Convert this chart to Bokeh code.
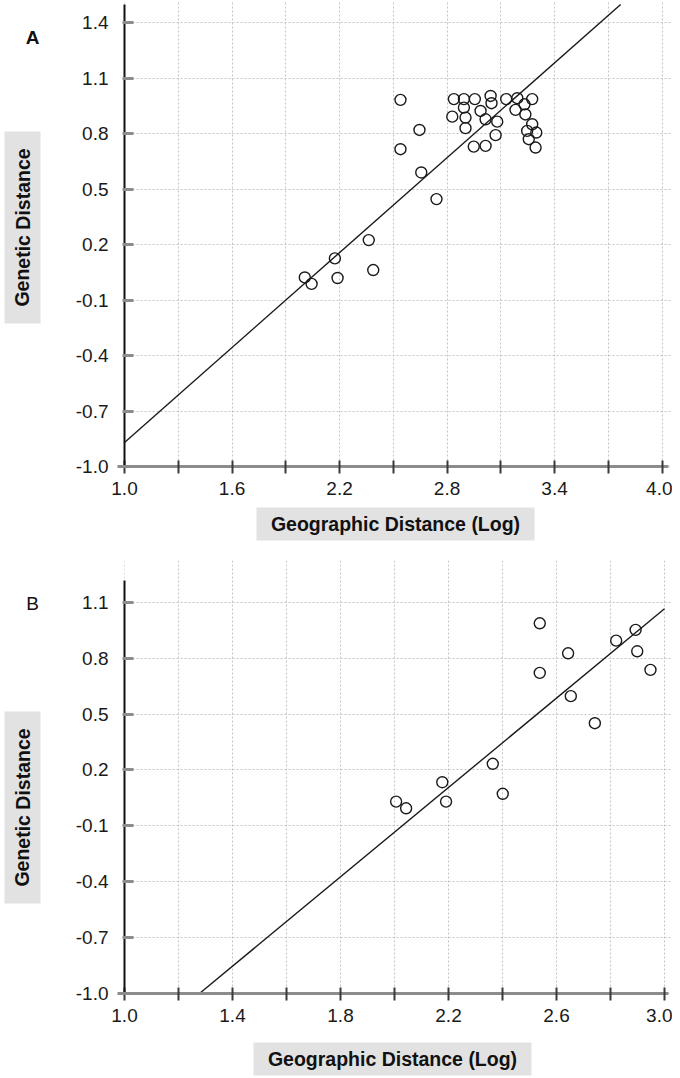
from bokeh.plotting import figure
from bokeh.models import FixedTicker, Label, Range1d, BoxAnnotation
from bokeh.layouts import column
from bokeh.embed import file_html
from bokeh.resources import INLINE

FONT = "Liberation Sans"

# ---------------- Panel A data ----------------
a_x = [2.006, 2.044, 2.174, 2.189, 2.363, 2.388, 2.540, 2.540, 2.646, 2.656, 2.741,
       2.838, 2.894, 2.955, 3.043, 3.048, 3.130, 3.192, 3.275, 2.829, 2.894, 2.903,
       2.903, 2.987, 3.015, 3.080, 3.071, 2.949, 3.015, 3.182, 3.232, 3.237, 3.275,
       3.247, 3.298, 3.256, 3.294]
a_y = [0.023, -0.012, 0.126, 0.020, 0.225, 0.063, 0.717, 0.984, 0.821, 0.591, 0.447,
       0.988, 0.988, 0.988, 1.005, 0.966, 0.988, 0.993, 0.988, 0.893, 0.942, 0.888,
       0.831, 0.924, 0.879, 0.866, 0.793, 0.731, 0.735, 0.930, 0.960, 0.905, 0.852,
       0.816, 0.807, 0.771, 0.726]
a_slope = 0.856
a_intercept = -1.726
a_xticks = [1.0, 1.3, 1.6, 1.9, 2.2, 2.5, 2.8, 3.1, 3.4, 3.7, 4.0]
a_xlabels = ["1.0", "", "1.6", "", "2.2", "", "2.8", "", "3.4", "", "4.0"]
a_yticks = [-1.0, -0.7, -0.4, -0.1, 0.2, 0.5, 0.8, 1.1, 1.4]
a_ylabels = ["-1.0", "-0.7", "-0.4", "-0.1", "0.2", "0.5", "0.8", "1.1", "1.4"]
a_ytop = 1.5

# ---------------- Panel B data ----------------
b_x = [2.006, 2.043, 2.177, 2.191, 2.364, 2.401, 2.538, 2.538, 2.643, 2.653, 2.742,
       2.821, 2.893, 2.899, 2.948]
b_y = [0.030, -0.006, 0.134, 0.030, 0.233, 0.072, 0.987, 0.721, 0.826, 0.596, 0.451,
       0.894, 0.952, 0.837, 0.737]
b_slope = 1.199
b_intercept = -2.532
b_xticks = [1.0, 1.2, 1.4, 1.6, 1.8, 2.0, 2.2, 2.4, 2.6, 2.8, 3.0]
b_xlabels = ["1.0", "", "1.4", "", "1.8", "", "2.2", "", "2.6", "", "3.0"]
b_yticks = [-1.0, -0.7, -0.4, -0.1, 0.2, 0.5, 0.8, 1.1]
b_ylabels = ["-1.0", "-0.7", "-0.4", "-0.1", "0.2", "0.5", "0.8", "1.1"]
b_ytop = 1.217

X_TITLE = "Geographic Distance (Log)"
Y_TITLE = "Genetic Distance"

W = 672
BOX_GREY = "#e2e2e2"


def make_panel(xs, ys, slope, intercept, xticks, xlabels, yticks, ylabels, y_top,
               sx, sy, y0, H, letter, letter_bold, letter_xy, ybox, xbox):
    # pixel -> data helpers for placing the decorations (canvas-local pixels)
    def dx(px):
        return 1.0 + (px - 124) / sx

    def dy(py):
        return -1.0 + (y0 - py) / sy

    p = figure(width=W, height=H, x_range=Range1d(dx(0), dx(W)),
               y_range=Range1d(dy(H), dy(0)), min_border=0, title=None,
               output_backend="svg", toolbar_location=None)
    p.outline_line_color = None
    p.background_fill_color = "white"
    p.border_fill_color = "white"

    x_lo, y_lo = xticks[0], yticks[0]

    # axes drawn at the data origin of the chart
    p.xaxis.fixed_location = y_lo
    p.yaxis.fixed_location = x_lo
    p.xaxis.bounds = (dx(117), dx(668))
    p.yaxis.bounds = (y_lo, y_top)

    p.xaxis.ticker = FixedTicker(ticks=xticks)
    p.xaxis.major_label_overrides = {t: l for t, l in zip(xticks, xlabels)}
    p.yaxis.ticker = FixedTicker(ticks=yticks)
    p.yaxis.major_label_overrides = {t: l for t, l in zip(yticks, ylabels)}
    p.xaxis.minor_tick_line_color = None
    p.yaxis.minor_tick_line_color = None

    p.xaxis.axis_line_color = "#8c8c8c"
    p.xaxis.axis_line_width = 3
    p.xaxis.major_tick_line_color = "#3a3a3a"
    p.xaxis.major_tick_line_width = 2
    p.xaxis.major_tick_in = 6
    p.xaxis.major_tick_out = 7
    p.xaxis.major_label_standoff = 8

    p.yaxis.axis_line_color = "#111111"
    p.yaxis.axis_line_width = 2
    p.yaxis.major_tick_line_color = "#8c8c8c"
    p.yaxis.major_tick_line_width = 3
    p.yaxis.major_tick_in = 9
    p.yaxis.major_tick_out = 2
    p.yaxis.major_label_standoff = 14

    for ax in (p.xaxis, p.yaxis):
        ax.major_label_text_font = FONT
        ax.major_label_text_font_size = "19px"
        ax.major_label_text_color = "#1a1a1a"

    # grids
    for g in (p.xgrid, p.ygrid):
        g.grid_line_color = "#c4c4c4"
        g.grid_line_dash = "2 2"
        g.grid_line_width = 1

    # white masks: keep the grid inside the plotting area
    p.add_layout(BoxAnnotation(right=x_lo, fill_color="white", fill_alpha=1.0,
                               line_color=None, level="underlay"))
    p.add_layout(BoxAnnotation(top=y_lo, fill_color="white", fill_alpha=1.0,
                               line_color=None, level="underlay"))

    # grey boxes behind axis titles
    yl, yr, yt, yb = ybox
    p.add_layout(BoxAnnotation(left=dx(yl), right=dx(yr), top=dy(yt), bottom=dy(yb),
                               fill_color=BOX_GREY, fill_alpha=1.0, line_color=None,
                               level="underlay"))
    xl, xr, xt, xb = xbox
    p.add_layout(BoxAnnotation(left=dx(xl), right=dx(xr), top=dy(xt), bottom=dy(xb),
                               fill_color=BOX_GREY, fill_alpha=1.0, line_color=None,
                               level="underlay"))

    # regression line, from the left axis / bottom axis to the top / last tick
    x_start = max(x_lo, (y_lo - intercept) / slope)
    x_end = min(xticks[-1], (y_top - intercept) / slope)
    p.line([x_start, x_end], [slope * x_start + intercept, slope * x_end + intercept],
           line_color="#1a1a1a", line_width=1.4)

    # points
    p.scatter(xs, ys, marker="circle", size=11, fill_color=None,
              line_color="#1a1a1a", line_width=1.4)

    # titles
    p.add_layout(Label(x=dx((yl + yr) / 2), y=dy((yt + yb) / 2), text=Y_TITLE,
                       angle=1.5707963, text_align="center", text_baseline="middle",
                       text_font=FONT, text_font_size="19.5px", text_font_style="bold",
                       text_color="#111111"))
    p.add_layout(Label(x=dx((xl + xr) / 2), y=dy((xt + xb) / 2), text=X_TITLE,
                       text_align="center", text_baseline="middle",
                       text_font=FONT, text_font_size="19.5px", text_font_style="bold",
                       text_color="#111111"))
    p.add_layout(Label(x=dx(letter_xy[0]), y=dy(letter_xy[1]), text=letter,
                       text_align="center", text_baseline="middle", text_font=FONT,
                       text_font_size="19px",
                       text_font_style="bold" if letter_bold else "normal",
                       text_color="#111111"))
    return p


pa = make_panel(a_x, a_y, a_slope, a_intercept, a_xticks, a_xlabels, a_yticks, a_ylabels,
                a_ytop, sx=179.2, sy=184.8, y0=466, H=560,
                letter="A", letter_bold=True, letter_xy=(32, 37),
                ybox=(4, 40, 131, 323), xbox=(256, 534, 507, 540))

pb = make_panel(b_x, b_y, b_slope, b_intercept, b_xticks, b_xlabels, b_yticks, b_ylabels,
                b_ytop, sx=270.0, sy=186.3, y0=433, H=518,
                letter="B", letter_bold=False, letter_xy=(32, 43),
                ybox=(4, 40, 151, 343), xbox=(253, 531, 482, 515))

layout = column(pa, pb, spacing=0)
open("out.html", "w").write(file_html(layout, INLINE))
